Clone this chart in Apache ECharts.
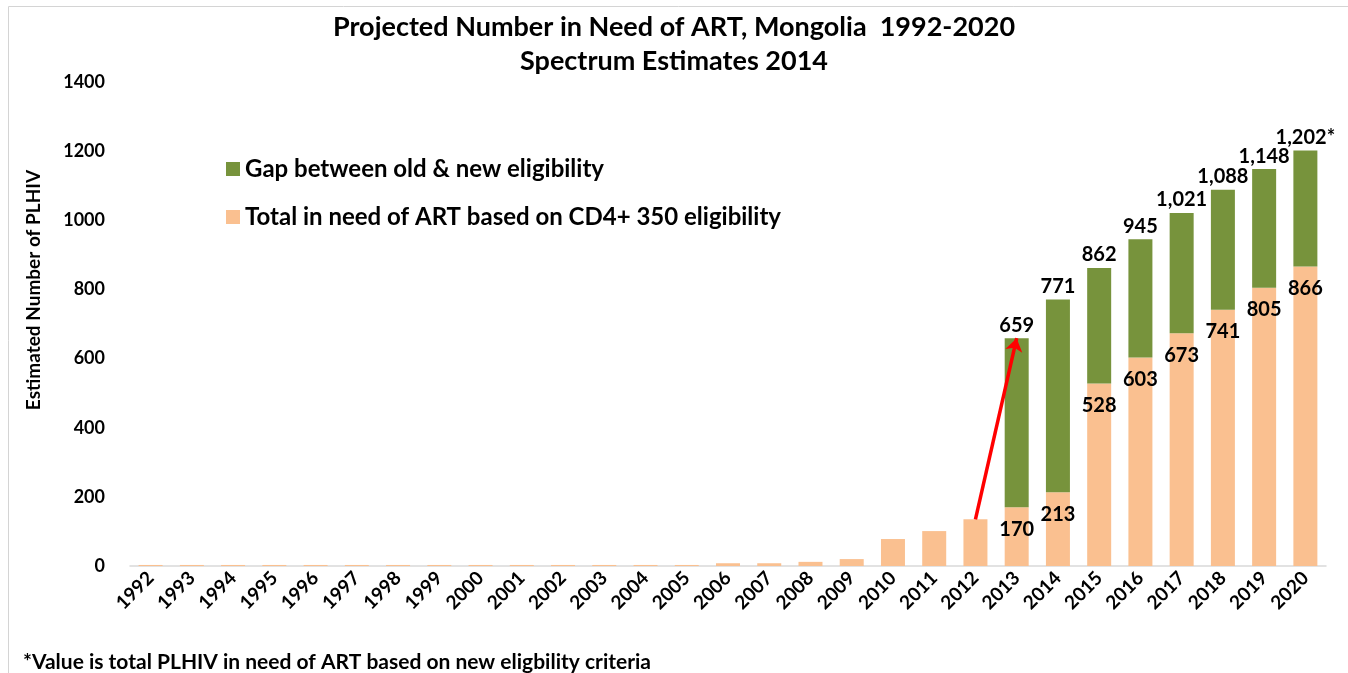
<!DOCTYPE html>
<html>
<head>
<meta charset="utf-8">
<title>Projected Number in Need of ART, Mongolia 1992-2020</title>
<script src="https://cdn.jsdelivr.net/npm/echarts@6/dist/echarts.min.js"></script>
<style>
    html, body { margin: 0; padding: 0; background: #fff; }
    #main { width: 1348px; height: 673px; }
</style>
</head>
<body>
<div id="main"></div>
<script>
// years on the x axis
var years = ['1992', '1993', '1994', '1995', '1996', '1997', '1998', '1999', '2000', '2001',
    '2002', '2003', '2004', '2005', '2006', '2007', '2008', '2009', '2010', '2011',
    '2012', '2013', '2014', '2015', '2016', '2017', '2018', '2019', '2020'];

// in need of ART, CD4+ 350 eligibility (orange part)
var oldNeed = [3, 3, 3, 3, 3, 3, 3, 3, 3, 3,
    3, 3, 3, 3, 8, 8, 12, 20, 78, 101,
    135, 170, 213, 528, 603, 673, 741, 805, 866];

// total under the new eligibility (label above each green bar)
var totals = [0, 0, 0, 0, 0, 0, 0, 0, 0, 0,
    0, 0, 0, 0, 0, 0, 0, 0, 0, 0,
    0, 659, 771, 862, 945, 1021, 1088, 1148, 1202];

// gap between old & new eligibility (green part)
var gap = [0, 0, 0, 0, 0, 0, 0, 0, 0, 0,
    0, 0, 0, 0, 0, 0, 0, 0, 0, 0,
    0, 489, 558, 334, 342, 348, 347, 343, 336];

var yTicks = [0, 200, 400, 600, 800, 1000, 1200, 1400];

var firstLabelled = 21; // 2013
var font = 'Lato';

var chart = echarts.init(document.getElementById('main'));

var option = {
    animation: false,
    textStyle: { fontFamily: font },
    title: [{
        text: 'Projected Number in Need of ART, Mongolia  1992-2020\nSpectrum Estimates 2014',
        left: 'center',
        top: 5,
        textStyle: {
            fontFamily: font,
            fontSize: 27,
            fontWeight: 'bold',
            color: '#000',
            lineHeight: 34
        }
    }, {
        text: '*Value is total PLHIV in need of ART based on new eligbility criteria',
        left: 18,
        top: 647,
        textStyle: { fontFamily: font, fontSize: 21, fontWeight: 'bold', color: '#000' }
    }],
    legend: {
        orient: 'vertical',
        left: 221,
        top: 152,
        itemWidth: 14,
        itemHeight: 14,
        itemGap: 24,
        icon: 'rect',
        data: ['Gap between old & new eligibility', 'Total in need of ART based on CD4+ 350 eligibility'],
        textStyle: { fontFamily: font, fontSize: 24, fontWeight: 'bold', color: '#000' }
    },
    graphic: [{
        type: 'rect',
        left: 6,
        top: 4,
        shape: { width: 1400, height: 700 },
        style: { fill: 'none', stroke: '#d4d4d4', lineWidth: 1 },
        silent: true
    }],
    grid: {
        left: 130,
        right: 22,
        top: 82,
        bottom: 107
    },
    xAxis: {
        type: 'category',
        data: years,
        axisTick: { show: false },
        axisLine: { lineStyle: { color: '#d9d9d9', width: 1.5 } },
        axisLabel: {
            rotate: 45,
            interval: 0,
            margin: 9,
            color: '#000',
            fontFamily: font,
            fontSize: 19,
            fontWeight: 'bold'
        }
    },
    yAxis: {
        type: 'value',
        min: yTicks[0],
        max: yTicks[yTicks.length - 1],
        interval: 200,
        name: 'Estimated Number of PLHIV',
        nameLocation: 'middle',
        nameGap: 87,
        nameTextStyle: {
            fontFamily: font,
            fontSize: 19,
            fontWeight: 'bold',
            color: '#000',
            padding: [0, 0, 0, 68]
        },
        axisLine: { show: false },
        axisTick: { show: false },
        splitLine: { show: false },
        axisLabel: {
            margin: 25,
            color: '#000',
            fontFamily: font,
            fontSize: 18,
            fontWeight: 'bold',
            formatter: function (v) { return String(v); }
        }
    },
    series: [{
        name: 'Total in need of ART based on CD4+ 350 eligibility',
        type: 'bar',
        stack: 'need',
        barWidth: 24,
        data: oldNeed,
        itemStyle: { color: '#fac090' },
        label: {
            show: true,
            position: 'insideTop',
            distance: 12,
            color: '#000',
            fontFamily: font,
            fontSize: 20,
            fontWeight: 'bold',
            formatter: function (p) {
                return p.dataIndex >= firstLabelled ? String(p.value) : '';
            }
        },
        // red arrow from 2012 to 2013
        markLine: {
            silent: true,
            symbol: ['none', 'arrow'],
            symbolSize: 13,
            label: { show: false },
            lineStyle: { color: '#ff0000', width: 3.5, type: 'solid' },
            data: [[
                { coord: [years[20], oldNeed[20]] },
                { coord: [years[21], totals[21]] }
            ]]
        }
    }, {
        name: 'Gap between old & new eligibility',
        type: 'bar',
        stack: 'need',
        barWidth: 24,
        data: gap,
        itemStyle: { color: '#77933c' },
        label: {
            show: true,
            position: 'top',
            distance: 3,
            color: '#000',
            fontFamily: font,
            fontSize: 20,
            fontWeight: 'bold',
            formatter: function (p) {
                if (p.dataIndex < firstLabelled) return '';
                var s = totals[p.dataIndex].toLocaleString('en-US');
                return p.dataIndex === years.length - 1 ? s + '*' : s;
            }
        }
    }]
};

chart.setOption(option);
</script>
</body>
</html>
